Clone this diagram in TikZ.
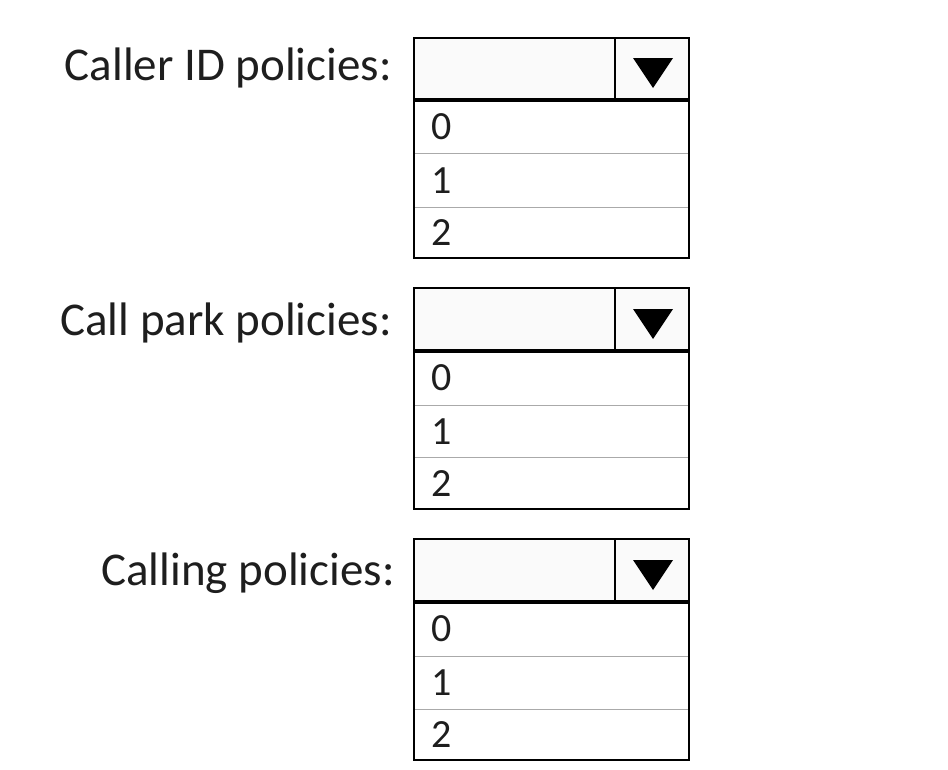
\documentclass[tikz,border=0pt]{standalone}
\usepackage{fontspec}
\setmainfont{Carlito}
\usepackage{xcolor}
\usepackage{tikz}
\definecolor{rowgray}{RGB}{170,170,170}
\definecolor{headfill}{RGB}{250,250,250}
\definecolor{inkgray}{RGB}{30,30,30}
\tikzset{
  label/.style={anchor=base east,text=inkgray,inner sep=0pt,font=\fontsize{47}{52}\selectfont},
  item/.style={anchor=base west,text=inkgray,inner sep=0pt,font=\fontsize{40}{46}\selectfont},
  rowline/.style={rowgray,line width=1pt},
  frame/.style={line width=2.3pt},
  headline/.style={line width=3.5pt},
  tri/.style={fill=black}
}
\begin{document}
\begin{tikzpicture}[x=1pt,y=-1pt]
  \useasboundingbox[fill=white] (0,0) rectangle (948,769);
  % Caller ID
  \coordinate (A) at (414,38);
  \fill[headfill] (A) rectangle (689,100);
  \draw[rowline] (414,153) -- (689,153);
  \draw[rowline] (414,207) -- (689,207);
  \draw[frame] (A) rectangle (689,258);
  \draw[frame] (615,38) -- (615,100);
  \draw[headline] (414,100) -- (689,100);
  \fill[tri] (633,58) -- (673,58) -- (653,88) -- cycle;
  \node[label] (A0) at (392,80) {Caller ID policies:};
  \node[item] (A1) at (431,139) {0};
  \node[item] (A2) at (431,193) {1};
  \node[item] (A3) at (431,245) {2};
  % Call park
  \coordinate (B) at (414,288);
  \fill[headfill] (B) rectangle (689,351);
  \draw[rowline] (414,405) -- (689,405);
  \draw[rowline] (414,457) -- (689,457);
  \draw[frame] (B) rectangle (689,509);
  \draw[frame] (615,288) -- (615,351);
  \draw[headline] (414,351) -- (689,351);
  \fill[tri] (633,309) -- (673,309) -- (653,339) -- cycle;
  \node[label] (B0) at (392,335) {Call park policies:};
  \node[item] (B1) at (431,390) {0};
  \node[item] (B2) at (431,444) {1};
  \node[item] (B3) at (431,496) {2};
  % Calling
  \coordinate (C) at (414,539);
  \fill[headfill] (C) rectangle (689,602);
  \draw[rowline] (414,656) -- (689,656);
  \draw[rowline] (414,709) -- (689,709);
  \draw[frame] (C) rectangle (689,760);
  \draw[frame] (615,539) -- (615,602);
  \draw[headline] (414,602) -- (689,602);
  \fill[tri] (633,560) -- (673,560) -- (653,590) -- cycle;
  \node[label] (C0) at (395,585) {Calling policies:};
  \node[item] (C1) at (431,641) {0};
  \node[item] (C2) at (431,695) {1};
  \node[item] (C3) at (431,747) {2};
\end{tikzpicture}
\end{document}
